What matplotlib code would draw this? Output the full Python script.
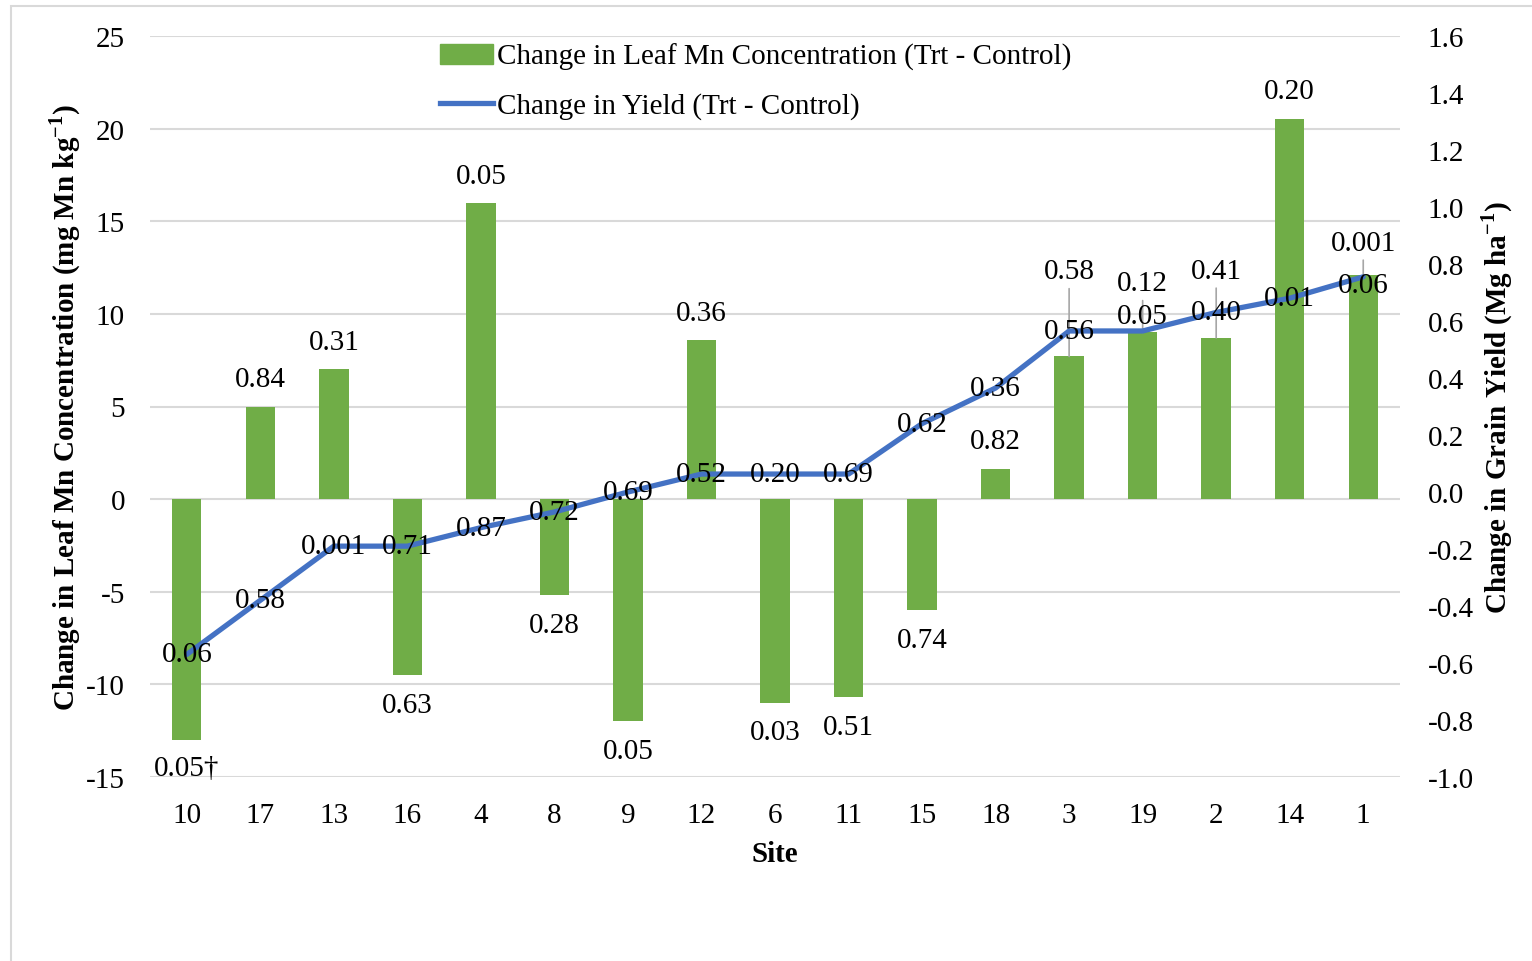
import matplotlib.pyplot as plt
import matplotlib.patches as mpl_patches
from matplotlib.lines import Line2D

plt.rcParams['font.family'] = ['Liberation Serif', 'DejaVu Serif']
plt.rcParams['mathtext.fontset'] = 'custom'
plt.rcParams['mathtext.rm'] = 'Liberation Serif'
plt.rcParams['mathtext.bf'] = 'Liberation Serif:bold'
plt.rcParams['axes.unicode_minus'] = False

sites = ['10', '17', '13', '16', '4', '8', '9', '12', '6', '11', '15', '18', '3', '19', '2', '14', '1']
leaf_mn_change = [-13.0, 5.0, 7.0, -9.5, 16.0, -5.2, -12.0, 8.6, -11.0, -10.7, -6.0, 1.6, 7.7, 9.0, 8.7, 20.5, 12.1]
yield_change = [-0.57, -0.38, -0.19, -0.19, -0.125, -0.07, 0.0, 0.063, 0.063, 0.063, 0.24, 0.365, 0.565, 0.565, 0.63, 0.68, 0.755]
leaf_p = ['0.05†', '0.84', '0.31', '0.63', '0.05', '0.28', '0.05', '0.36', '0.03', '0.51', '0.74', '0.82', '0.58', '0.12', '0.41', '0.20', '0.001']
yield_p = ['0.06', '0.58', '0.001', '0.71', '0.87', '0.72', '0.69', '0.52', '0.20', '0.69', '0.62', '0.36', '0.56', '0.05', '0.40', '0.01', '0.06']

# label offsets (pixels) and leader lines
bar_lbl_off = [28, 27, 27, 30, 27, 30, 30, 27, 29, 30, 30, 28, 85, 49, 67, 28, 32]
leader = [False] * 12 + [True, True, True, False, True]
line_lbl_off = [0] * 13 + [15, 0, 0, -8]

GREEN = '#70AD47'
BLUE = '#4472C4'
FS = 21

fig = plt.figure(figsize=(15.32, 9.62), dpi=100)
W, H = 1532, 962
fig.patches.append(mpl_patches.Rectangle((11 / W, -0.1), 1.2, 1.1 - 7 / H, transform=fig.transFigure,
                                         fill=False, edgecolor='#D9D9D9', linewidth=1.5))

ax = fig.add_axes([150 / W, 1 - 778 / H, 1250 / W, 741 / H])
ax2 = ax.twinx()

x = list(range(len(sites)))
ax.bar(x, leaf_mn_change, width=0.4, color=GREEN, zorder=2)
ax.set_ylim(-15, 25)
ax.set_yticks(range(-15, 26, 5))
ax.set_xlim(-0.5, len(sites) - 0.5)
ax.set_xticks(x)
ax.set_xticklabels(sites)
ax.yaxis.grid(True, color='#D9D9D9', linewidth=1.5, zorder=0)
ax.set_axisbelow(True)

for i, v in enumerate(leaf_mn_change):
    off = bar_lbl_off[i] if v >= 0 else -bar_lbl_off[i]
    props = dict(arrowstyle='-', color='#A6A6A6', lw=1.2, shrinkA=1, shrinkB=0) if leader[i] else None
    ax.annotate(leaf_p[i], xy=(i, v), xytext=(0, off), textcoords='offset pixels',
                ha='center', va='center', fontsize=FS, arrowprops=props, zorder=5)

ax2.plot(x, yield_change, color=BLUE, linewidth=3.8, solid_capstyle='round', zorder=3)
ax2.set_ylim(-1.0, 1.6)
ax2.set_yticks([i / 10 for i in range(-10, 17, 2)])
ax2.set_yticklabels(['%.1f' % (i / 10) for i in range(-10, 17, 2)])
for i, v in enumerate(yield_change):
    ax2.annotate(yield_p[i], xy=(i, v), xytext=(0, line_lbl_off[i]), textcoords='offset pixels',
                 ha='center', va='center', fontsize=FS, zorder=6)

for a in (ax, ax2):
    for s in a.spines.values():
        s.set_visible(False)
    a.tick_params(length=0, labelsize=FS)
ax.tick_params(axis='y', pad=18)
ax.tick_params(axis='x', pad=18)
ax2.tick_params(pad=20)

ax.set_xlabel('Site', fontsize=FS, fontweight='bold', labelpad=9)
ax.set_ylabel('Change in Leaf Mn Concentration (mg Mn kg$^{\\mathbf{-1}}$)', fontsize=FS, fontweight='bold', labelpad=2)
ax2.set_ylabel('Change in Grain Yield (Mg ha$^{\\mathbf{-1}}$)', fontsize=FS, fontweight='bold',
               rotation=90, labelpad=4)

handles = [mpl_patches.Patch(color=GREEN), Line2D([0], [0], color=BLUE, linewidth=3.8)]
labels = ['Change in Leaf Mn Concentration (Trt - Control)', 'Change in Yield (Trt - Control)']
ax.legend(handles, labels, loc='upper left', bbox_to_anchor=(270 / 1250, 1.018), frameon=False,
          fontsize=FS, handlelength=1.8, handletextpad=0.15, labelspacing=0.75, borderaxespad=0.3)

fig.savefig('out.png', dpi=100)
